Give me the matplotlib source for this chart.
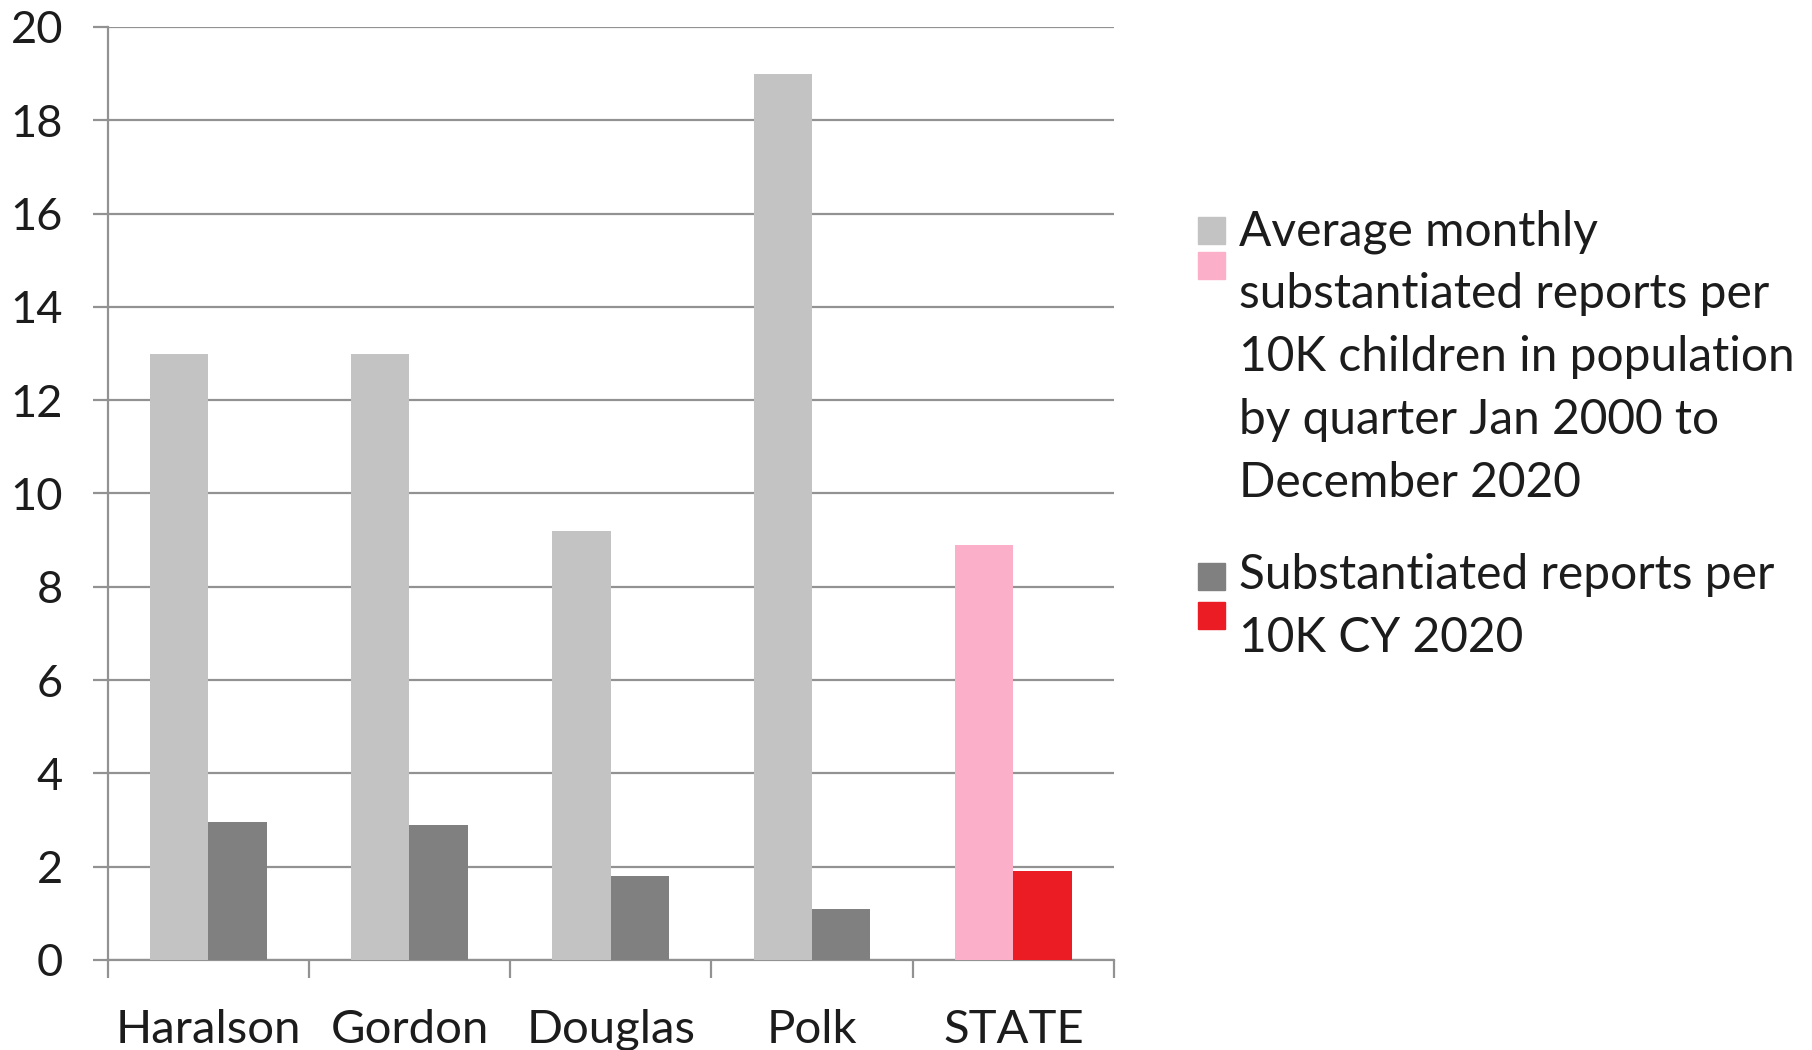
import numpy as np
import matplotlib.pyplot as plt
from matplotlib.patches import Rectangle

plt.rcParams['font.family'] = ['Lato', 'DejaVu Sans']

counties = ["Haralson", "Gordon", "Douglas", "Polk", "STATE"]
avg_monthly = [13.0, 13.0, 9.2, 19.0, 8.9]
cy_2020 = [2.95, 2.9, 1.8, 1.1, 1.9]

avg_colors = ["#c3c3c3", "#c3c3c3", "#c3c3c3", "#c3c3c3", "#fcafc9"]
cy_colors = ["#808080", "#808080", "#808080", "#808080", "#ec1c24"]

legend_lines_1 = ["Average monthly", "substantiated reports per",
                  "10K children in population", "by quarter Jan 2000 to",
                  "December 2020"]
legend_lines_2 = ["Substantiated reports per", "10K CY 2020"]

W, H = 1812, 1050
fig = plt.figure(figsize=(W / 100, H / 100), dpi=100)


def fx(px):
    return px / W


def fy(py):
    return 1 - py / H


ax = fig.add_axes([fx(107.5), fy(960), fx(1114) - fx(107.5), fy(27) - fy(960)])

grid_col = "#929292"
text_col = "#1c1c1c"
w = 0.29
x = np.arange(len(counties))
ax.bar(x - w / 2, avg_monthly, w, color=avg_colors, zorder=3)
ax.bar(x + w / 2, cy_2020, w, color=cy_colors, zorder=3)

ax.set_xlim(-0.5, len(counties) - 0.5)
ax.set_ylim(0, 20)
ax.set_yticks(np.arange(0, 21, 2))
ax.yaxis.grid(True, color=grid_col, linewidth=1.6, zorder=0)
ax.set_axisbelow(True)

for s in ["top", "right"]:
    ax.spines[s].set_visible(False)
for s in ["left", "bottom"]:
    ax.spines[s].set_color(grid_col)
    ax.spines[s].set_linewidth(1.6)

ax.tick_params(axis="y", length=11, width=1.6, color=grid_col, pad=21,
               labelsize=32.5, labelcolor=text_col)
ax.set_xticks(x)
ax.set_xticklabels(counties)
ax.set_xticks(np.arange(-0.5, len(counties)), minor=True)
ax.tick_params(axis="x", which="major", length=0, pad=35,
               labelsize=34, labelcolor=text_col)
ax.tick_params(axis="x", which="minor", length=13, width=1.6, color=grid_col)

# legend drawn by hand: two colour chips per entry, wrapped text
text_x = 1239
chip_x, chip = 1198, 27
for i, line in enumerate(legend_lines_1):
    fig.text(fx(text_x), fy(245 + i * 63), line, fontsize=34.5,
             color=text_col, va="baseline")
for i, line in enumerate(legend_lines_2):
    fig.text(fx(text_x), fy(589 + i * 63), line, fontsize=34.5,
             color=text_col, va="baseline")

for top, col in [(217, avg_colors[0]), (252, avg_colors[-1]),
                 (563, cy_colors[0]), (602, cy_colors[-1])]:
    fig.add_artist(Rectangle((fx(chip_x), fy(top + chip)), fx(chip),
                             fy(0) - fy(chip), color=col,
                             transform=fig.transFigure))

fig.savefig("out.png", dpi=100)
